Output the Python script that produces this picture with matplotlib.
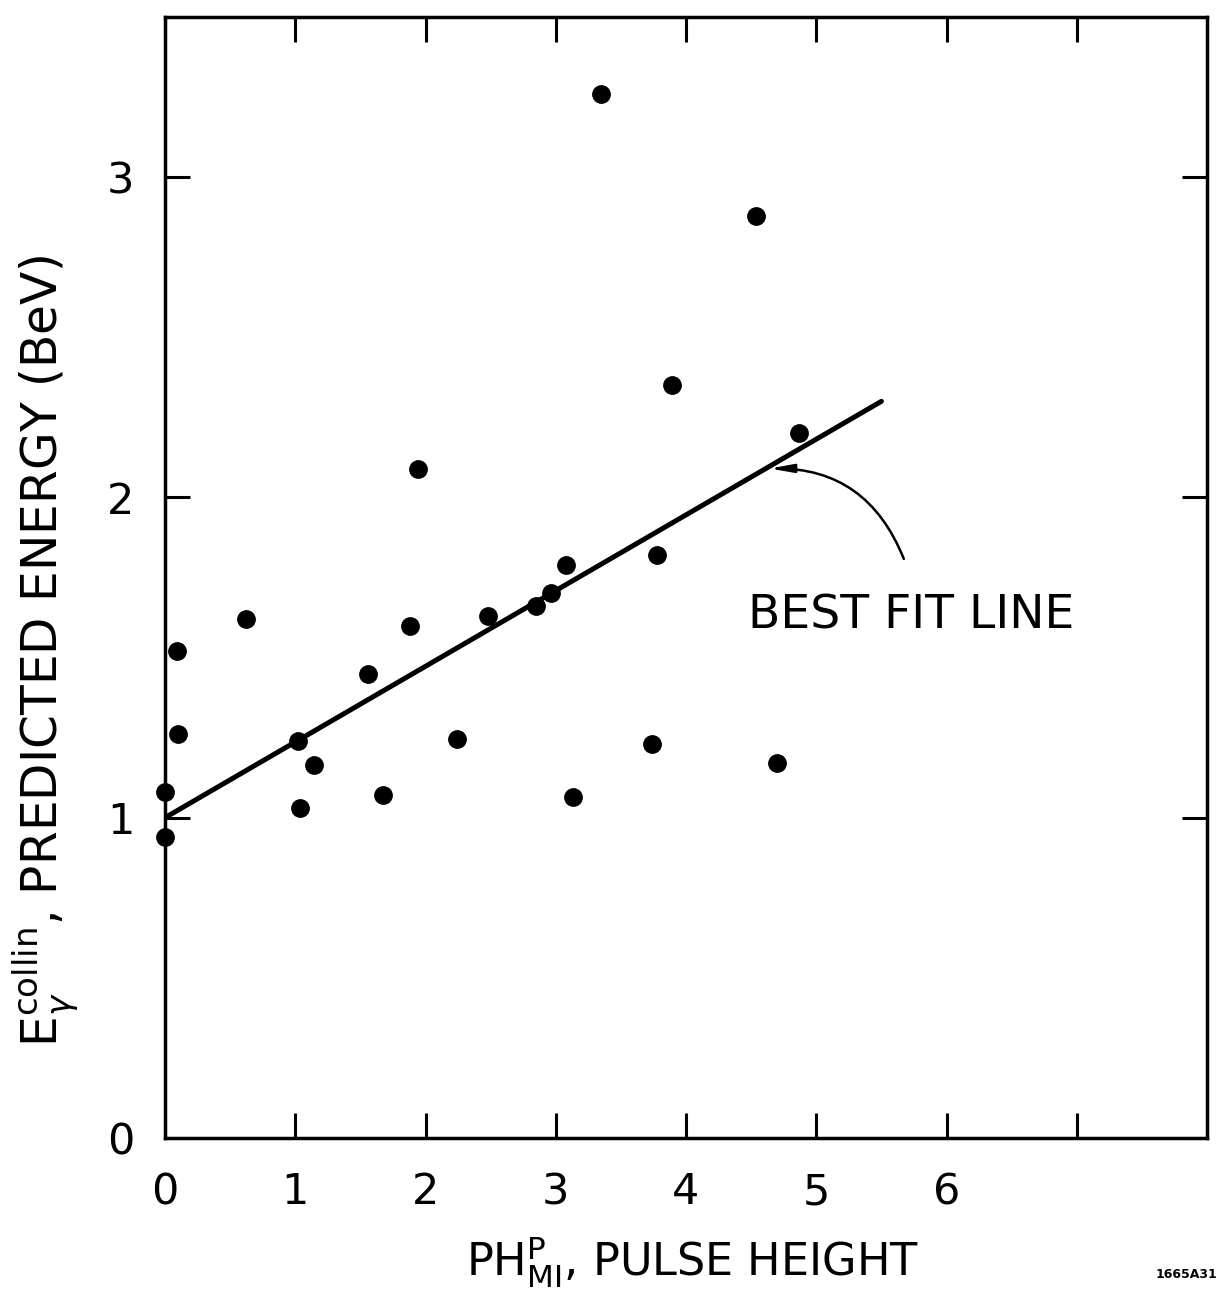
import matplotlib.pyplot as plt

# pulse height vs predicted energy
pulse_height = [0.00, 0.00, 0.09, 0.10, 0.62, 1.02, 1.04, 1.14, 1.56, 1.67,
                1.88, 1.94, 2.24, 2.48, 2.85, 2.96, 3.08, 3.13, 3.35, 3.74,
                3.78, 3.89, 4.54, 4.70, 4.87]
energy = [1.08, 0.94, 1.52, 1.26, 1.62, 1.24, 1.03, 1.165, 1.45, 1.07,
          1.60, 2.09, 1.245, 1.63, 1.66, 1.70, 1.79, 1.065, 3.26, 1.23,
          1.82, 2.35, 2.88, 1.17, 2.20]

# best fit line end points
fit_x = [0.0, 5.5]
fit_y = [1.0, 2.3]

x_ticks = [0, 1, 2, 3, 4, 5, 6, 7]
x_tick_labels = ['0', '1', '2', '3', '4', '5', '6', '']
y_ticks = [0, 1, 2, 3]
y_tick_labels = ['0', '1', '2', '3']

plt.rcParams['font.family'] = 'DejaVu Sans'
plt.rcParams['mathtext.fontset'] = 'dejavusans'

fig = plt.figure(figsize=(12.17, 12.98), dpi=100)
ax = fig.add_axes([0.1356, 0.1233, 0.8562, 0.8636])

ax.plot(pulse_height, energy, 'o', color='black', markersize=12.5, clip_on=False, zorder=3)
ax.plot(fit_x, fit_y, color='black', linewidth=3.6, solid_capstyle='round')

ax.set_xlim(0, 8)
ax.set_ylim(0, 3.5)

ax.set_xticks(x_ticks)
ax.set_xticklabels(x_tick_labels)
ax.set_yticks(y_ticks)
ax.set_yticklabels(y_tick_labels)
ax.tick_params(direction='in', length=18, width=2.2, labelsize=31,
               top=True, right=True, pad=22)
ax.tick_params(axis='x', pad=24)
for s in ax.spines.values():
    s.set_linewidth(2.5)

ax.annotate('', xy=(4.62, 2.09), xytext=(5.68, 1.80),
            arrowprops=dict(arrowstyle='-|>,head_length=1.4,head_width=0.25',
                            color='black', lw=1.8,
                            connectionstyle='arc3,rad=0.35'))
ax.text(5.73, 1.63, 'BEST FIT LINE', fontsize=34, ha='center', va='center')

fig.text(0.037, 0.499, r'E$_{\gamma}^{\rm collin}$, PREDICTED ENERGY (BeV)',
         rotation=90, fontsize=35, ha='center', va='center')
fig.text(0.569, 0.028, r'PH$_{\rm MI}^{\rm P}$, PULSE HEIGHT',
         fontsize=32, ha='center', va='center')
fig.text(0.975, 0.018, '1665A31', fontsize=9, ha='center', va='center',
         fontweight='bold')

fig.savefig('out.png', dpi=100)
